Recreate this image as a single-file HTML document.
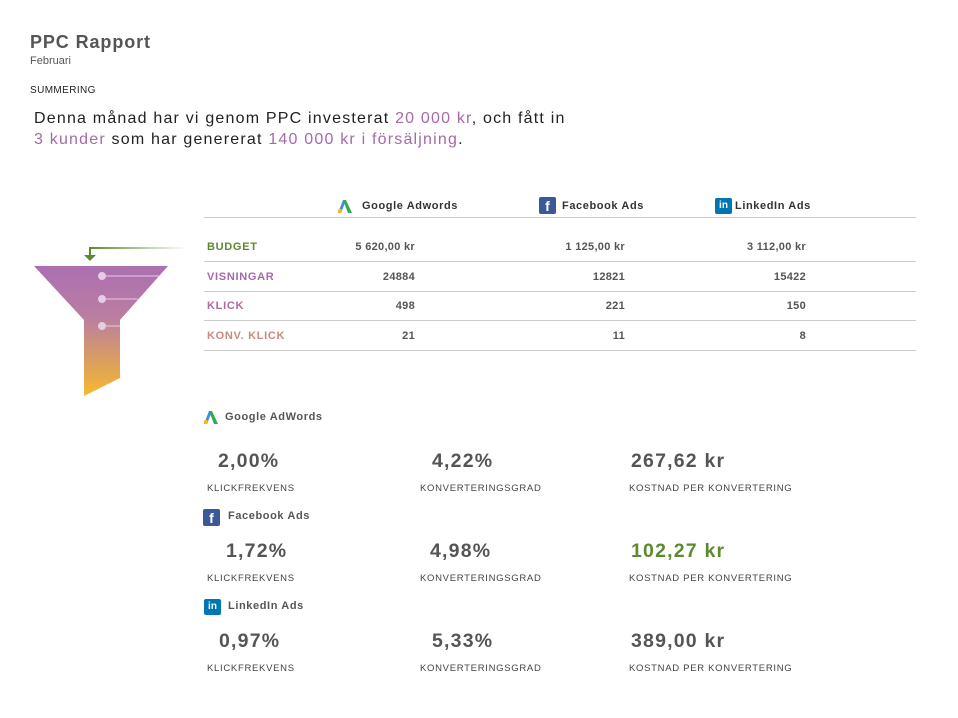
<!DOCTYPE html>
<html><head><meta charset="utf-8"><style>
body{margin:0;width:958px;height:718px;background:#fff;font-family:"Liberation Sans",sans-serif;color:#555;position:relative;overflow:hidden}
.a{position:absolute;white-space:nowrap}
.b{font-weight:bold}
.lbl{font-size:11px;font-weight:bold;letter-spacing:.7px}
.num{font-size:11px;font-weight:bold;color:#555;text-align:right;width:120px;letter-spacing:.3px}
.big{font-size:19.5px;font-weight:bold;color:#555;letter-spacing:1.2px}
.small{font-size:9.5px;color:#444;letter-spacing:.7px}
.line{position:absolute;left:204px;width:712px;height:1px;background:#ccc}
.p{color:#a56aa8}
.hd{font-size:11px;font-weight:bold;letter-spacing:.6px}
.ic{position:absolute;width:15px;height:15px;border-radius:2px;color:#fff;font-weight:bold;text-align:center}
</style></head><body>
<div class="a b" style="left:30px;top:32px;font-size:18px;color:#555;letter-spacing:.9px">PPC Rapport</div>
<div class="a" style="left:30px;top:55px;font-size:11px">Februari</div>
<div class="a" style="left:30px;top:85px;font-size:10px;color:#222;letter-spacing:.4px">SUMMERING</div>
<div class="a" style="left:34px;top:108px;font-size:16px;color:#222;line-height:21px;letter-spacing:1.2px">Denna månad har vi genom PPC investerat <span class="p">20 000 kr</span>, och fått in<br><span class="p">3 kunder</span> som har genererat <span class="p">140 000 kr i försäljning</span>.</div>

<svg class="a" style="left:0;top:0" width="300" height="420">
<defs><linearGradient id="g" x1="0" y1="266" x2="0" y2="396" gradientUnits="userSpaceOnUse"><stop offset="0" stop-color="#ac6fb2"/><stop offset=".4" stop-color="#bb7ea0"/><stop offset="1" stop-color="#f6b92c"/></linearGradient>
<linearGradient id="gl" x1="0" x2="1"><stop offset="0" stop-color="#5c8a2e"/><stop offset="1" stop-color="#5c8a2e" stop-opacity="0"/></linearGradient></defs>
<path d="M34 266 L168 266 L120 320 L120 378 L84 396 L84 320 Z" fill="url(#g)"/>
<rect x="89" y="247" width="98" height="2" fill="url(#gl)"/>
<rect x="89" y="247" width="2" height="9" fill="#5c8a2e"/>
<path d="M84 255 L96 255 L90 261 Z" fill="#5c8a2e"/>
<g fill="#e6cce6" stroke="#e6cce6"><circle cx="102" cy="276" r="3.5"/><line x1="102" y1="276" x2="160" y2="276"/><circle cx="102" cy="299" r="3.5"/><line x1="102" y1="299" x2="138" y2="299"/><circle cx="102" cy="326" r="3.5"/><line x1="102" y1="326" x2="120" y2="326"/></g>
</svg>

<svg class="a" style="left:337px;top:198px" width="16" height="16"><path d="M1 15 L6 2 L9 2 L4 15Z" fill="#4285f4"/><path d="M6 2 L9 2 L15 15 L11 15Z" fill="#34a853"/><circle cx="3" cy="13" r="2.2" fill="#fbbc05"/></svg>
<div class="a hd" style="left:362px;top:200px;color:#333">Google Adwords</div>
<div class="ic" style="left:539px;top:197px;width:17px;height:17px;background:#3b5998;font-size:14px;line-height:19px">f</div>
<div class="a hd" style="left:562px;top:200px;color:#333">Facebook Ads</div>
<div class="ic" style="left:715px;top:198px;width:17px;height:16px;background:#0077b5;font-size:10px;line-height:16px">in</div>
<div class="a hd" style="left:735px;top:200px;color:#333">LinkedIn Ads</div>

<div class="line" style="top:217px"></div>
<div class="line" style="top:261px"></div>
<div class="line" style="top:291px"></div>
<div class="line" style="top:320px"></div>
<div class="line" style="top:350px"></div>

<div class="a lbl" style="left:207px;top:241px;color:#5c8a2e">BUDGET</div>
<div class="a lbl" style="left:207px;top:271px;color:#a56aa8">VISNINGAR</div>
<div class="a lbl" style="left:207px;top:300px;color:#b06a9c">KLICK</div>
<div class="a lbl" style="left:207px;top:330px;color:#c98a7a">KONV. KLICK</div>

<div class="a num" style="left:295px;top:241px">5 620,00 kr</div>
<div class="a num" style="left:505px;top:241px">1 125,00 kr</div>
<div class="a num" style="left:686px;top:241px">3 112,00 kr</div>
<div class="a num" style="left:295px;top:271px">24884</div>
<div class="a num" style="left:505px;top:271px">12821</div>
<div class="a num" style="left:686px;top:271px">15422</div>
<div class="a num" style="left:295px;top:300px">498</div>
<div class="a num" style="left:505px;top:300px">221</div>
<div class="a num" style="left:686px;top:300px">150</div>
<div class="a num" style="left:295px;top:330px">21</div>
<div class="a num" style="left:505px;top:330px">11</div>
<div class="a num" style="left:686px;top:330px">8</div>

<svg class="a" style="left:203px;top:409px" width="16" height="16"><path d="M1 15 L6 2 L9 2 L4 15Z" fill="#4285f4"/><path d="M6 2 L9 2 L15 15 L11 15Z" fill="#34a853"/><circle cx="3" cy="13" r="2.2" fill="#fbbc05"/></svg>
<div class="a hd" style="left:225px;top:411px">Google AdWords</div>
<div class="a big" style="left:218px;top:450px">2,00%</div>
<div class="a big" style="left:432px;top:450px">4,22%</div>
<div class="a big" style="left:631px;top:450px">267,62 kr</div>
<div class="a small" style="left:207px;top:483px">KLICKFREKVENS</div>
<div class="a small" style="left:420px;top:483px">KONVERTERINGSGRAD</div>
<div class="a small" style="left:629px;top:483px">KOSTNAD PER KONVERTERING</div>

<div class="ic" style="left:203px;top:509px;width:17px;height:17px;background:#3b5998;font-size:14px;line-height:19px">f</div>
<div class="a hd" style="left:228px;top:510px">Facebook Ads</div>
<div class="a big" style="left:226px;top:540px">1,72%</div>
<div class="a big" style="left:430px;top:540px">4,98%</div>
<div class="a big" style="left:631px;top:540px;color:#5c8a2e">102,27 kr</div>
<div class="a small" style="left:207px;top:573px">KLICKFREKVENS</div>
<div class="a small" style="left:420px;top:573px">KONVERTERINGSGRAD</div>
<div class="a small" style="left:629px;top:573px">KOSTNAD PER KONVERTERING</div>

<div class="ic" style="left:204px;top:599px;width:17px;height:16px;background:#0077b5;font-size:10px;line-height:16px">in</div>
<div class="a hd" style="left:228px;top:600px">LinkedIn Ads</div>
<div class="a big" style="left:219px;top:630px">0,97%</div>
<div class="a big" style="left:432px;top:630px">5,33%</div>
<div class="a big" style="left:631px;top:630px">389,00 kr</div>
<div class="a small" style="left:207px;top:663px">KLICKFREKVENS</div>
<div class="a small" style="left:420px;top:663px">KONVERTERINGSGRAD</div>
<div class="a small" style="left:629px;top:663px">KOSTNAD PER KONVERTERING</div>
</body></html>
